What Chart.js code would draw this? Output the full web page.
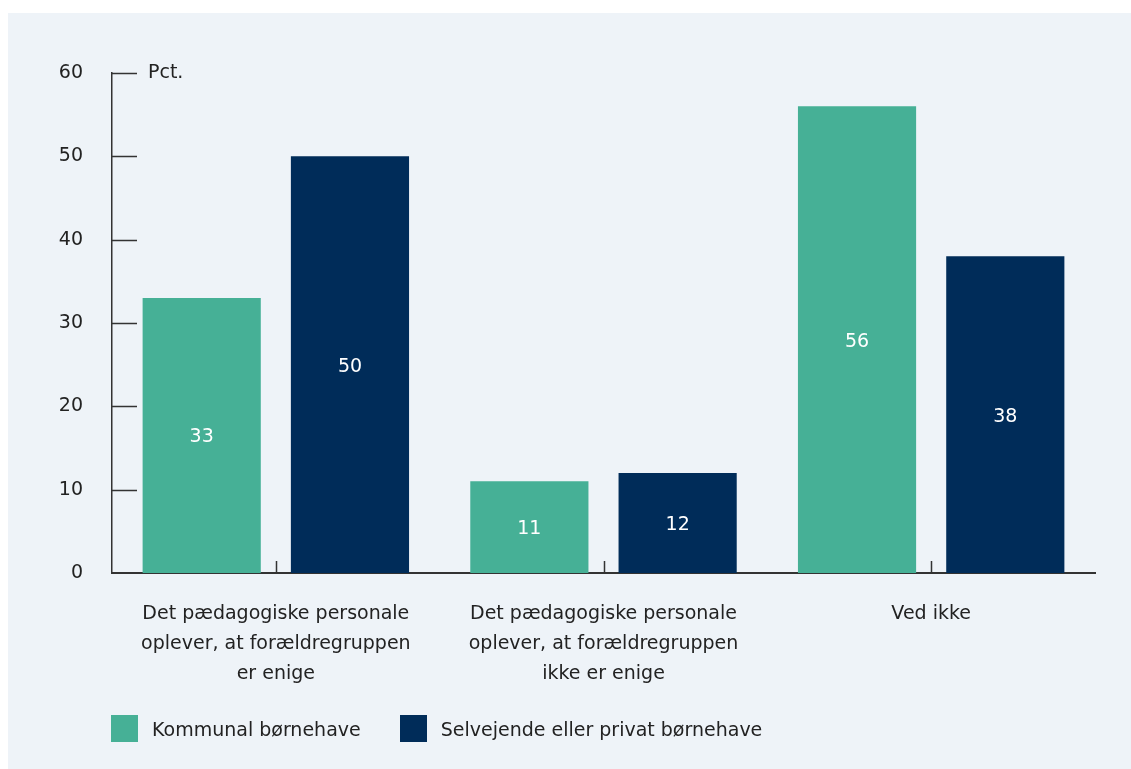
<!DOCTYPE html>
<html lang="da">
<head>
<meta charset="utf-8">
<title>Forældregruppen</title>
<script src="https://cdn.jsdelivr.net/npm/chart.js@4.4.1/dist/chart.umd.min.js"></script>
<style>
  html, body { margin: 0; padding: 0; background: #fff; }
  body { width: 1131px; height: 769px; position: relative; overflow: hidden; font-family: "DejaVu Sans", sans-serif; }
  .panel { position: absolute; left: 8px; top: 13px; right: 0; bottom: 0; background: #eef3f8; }
  #chart { position: absolute; left: 0; top: 0; }
  .legend { position: absolute; left: 111px; top: 715px; display: flex; align-items: center; color: #222; font-size: 19px; }
  .legend span.item { display: flex; align-items: center; margin-right: 39px; }
  .legend i { display: inline-block; width: 27px; height: 27px; margin-right: 14px; }
</style>
</head>
<body>
<div class="panel"></div>
<canvas id="chart" width="1131" height="769"></canvas>
<div class="legend" id="legend"></div>
<script>
const categories = [
  ['Det pædagogiske personale', 'oplever, at forældregruppen', 'er enige'],
  ['Det pædagogiske personale', 'oplever, at forældregruppen', 'ikke er enige'],
  'Ved ikke'
];
const seriesNames = ['Kommunal børnehave', 'Selvejende eller privat børnehave'];
const kommunal = [33, 11, 56];
const selvejende = [50, 12, 38];
const yTicks = [0, 10, 20, 30, 40, 50, 60];
const unitLabel = 'Pct.';

const GREEN = '#46b096';
const NAVY = '#002c59';
const INK = '#222222';
const FONT = '"DejaVu Sans", sans-serif';

// short ticks drawn inwards, unit label, and values inside the bars
const decorations = {
  id: 'decorations',
  afterDatasetsDraw(chart) {
    const { ctx, scales: { x, y } } = chart;
    ctx.save();
    ctx.strokeStyle = '#333';
    ctx.lineWidth = 1.5;
    ctx.beginPath();
    y.ticks.forEach(t => {
      if (t.value === 0) return;
      const py = Math.round(y.getPixelForValue(t.value)) + 0.5;
      ctx.moveTo(x.left, py);
      ctx.lineTo(x.left + 25, py);
    });
    categories.forEach((c, i) => {
      const px = Math.round(x.getPixelForValue(i)) + 0.5;
      ctx.moveTo(px, y.bottom);
      ctx.lineTo(px, y.bottom - 12);
    });
    ctx.stroke();

    ctx.fillStyle = INK;
    ctx.font = '19px ' + FONT;
    ctx.textAlign = 'left';
    ctx.textBaseline = 'middle';
    ctx.fillText(unitLabel, x.left + 36, y.getPixelForValue(60));

    ctx.fillStyle = '#fff';
    ctx.textAlign = 'center';
    chart.data.datasets.forEach((ds, di) => {
      chart.getDatasetMeta(di).data.forEach((bar, i) => {
        const mid = (bar.y + bar.base) / 2;
        ctx.fillText(String(ds.data[i]), bar.x, mid + 2);
      });
    });
    ctx.restore();
  }
};

const chart = new Chart(document.getElementById('chart'), {
  type: 'bar',
  data: {
    labels: categories,
    datasets: [
      { label: seriesNames[0], data: kommunal, backgroundColor: GREEN },
      { label: seriesNames[1], data: selvejende, backgroundColor: NAVY }
    ]
  },
  options: {
    responsive: false,
    animation: false,
    categoryPercentage: 0.905,
    barPercentage: 0.797,
    layout: { padding: { left: 50, right: 36, top: 73, bottom: 54 } },
    plugins: { legend: { display: false }, tooltip: { enabled: false } },
    scales: {
      x: {
        grid: { display: false, drawTicks: false },
        border: { color: '#333', width: 2 },
        ticks: { color: INK, padding: 26, font: { family: FONT, size: 19, lineHeight: 30 / 19 } }
      },
      y: {
        min: 0,
        max: 60,
        afterFit(scale) { scale.width = 62; },
        afterBuildTicks(scale) { scale.ticks = yTicks.map(v => ({ value: v })); },
        grid: { display: false, drawTicks: false },
        border: { color: '#333', width: 1.5 },
        ticks: { color: INK, padding: 29, font: { family: FONT, size: 19 } }
      }
    }
  },
  plugins: [decorations]
});

// legend built from the datasets
const legend = document.getElementById('legend');
chart.data.datasets.forEach(ds => {
  const item = document.createElement('span');
  item.className = 'item';
  const sw = document.createElement('i');
  sw.style.background = ds.backgroundColor;
  item.appendChild(sw);
  item.appendChild(document.createTextNode(ds.label));
  legend.appendChild(item);
});
</script>
</body>
</html>
